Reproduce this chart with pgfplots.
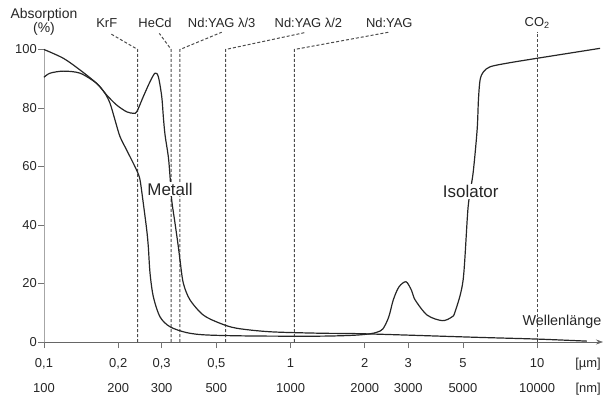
\documentclass[border=0pt]{standalone}
\usepackage{pgfplots}
\pgfplotsset{compat=1.18}
\usepackage{fontspec}
\setmainfont{Liberation Sans}
\usetikzlibrary{arrows.meta}
\tikzset{
  dashline/.style={black!70, line width=1bp, dash pattern=on 3bp off 2bp},
  curve/.style={black!85, line width=1.2bp, smooth, tension=0.5},
  lab/.style={font=\fontsize{13}{15}\selectfont, text=black!85},
}
\begin{document}
\begin{tikzpicture}
\begin{axis}[
  xmode=log, xmin=0.1, xmax=18.5, ymin=0, ymax=100,
  scale only axis, width=559bp, height=292.5bp,
  axis x line=bottom, axis y line=left,
  x axis line style={-{Stealth[length=7bp,width=5bp]}, black!60, line width=0.6bp},
  y axis line style={-, black!35, line width=0.6bp},
  tick style={black!55, line width=0.6bp},
  tick align=outside, major tick length=6bp,
  xtick={0.1,0.2,0.3,0.5,1,2,3,5,10},
  xticklabels={{0,1},{0,2},{0,3},{0,5},1,2,3,5,10},
  extra x ticks={0.1,0.2,0.3,0.5,1,2,3,5,10},
  extra x tick labels={100,200,300,500,1000,2000,3000,5000,10000},
  extra x tick style={xticklabel style={yshift=-25.3bp}},
  ytick={0,20,40,60,80,100},
  yticklabels={0,20,40,60,80,100},
  xminorticks=false,
  clip=false,
  /pgf/number format/assume math mode=true,
  every tick label/.append style={font=\fontsize{13}{15}\selectfont, text=black!85},
  xticklabel style={anchor=base, yshift=-19.5bp},
  yticklabel style={inner sep=1bp},
]
\coordinate (O) at (rel axis cs:0,0);
% laser lines
\draw[dashline] (axis cs:0.240,0) -- (axis cs:0.240,100) -- (axis cs:0.1853,105.5);
\draw[dashline] (axis cs:0.328,0) -- (axis cs:0.328,100) -- (axis cs:0.2937,105.5);
\draw[dashline] (axis cs:0.356,0) -- (axis cs:0.356,100) -- (axis cs:0.5257,105.9);
\draw[dashline] (axis cs:0.545,0) -- (axis cs:0.545,100) -- (axis cs:1.145,105.8);
\draw[dashline] (axis cs:1.036,0) -- (axis cs:1.036,100) -- (axis cs:2.533,106);
\draw[dashline] (axis cs:10.0,0) -- (axis cs:10.0,106);

% Isolator
\addplot[curve] coordinates {
(0.1,100) (0.1198,97.0) (0.140,93.0) (0.1636,88.4) (0.1768,85.0) (0.1853,81.6)
(0.1941,75.9) (0.2034,70.2) (0.2165,65.6) (0.2303,61.1) (0.2391,58.2) (0.2452,55.4)
(0.2528,47.4) (0.2610,38.3) (0.2649,32.6) (0.2692,23.5) (0.2776,15.5) (0.2955,8.6)
(0.3245,5.2) (0.3793,3.2) (0.4571,2.4) (0.7066,2.05) (1.317,2.0) (1.8,2.3) (2.1,2.8)
(2.25,3.4) (2.37,4.5) (2.5,8.5) (2.61,14.4) (2.75,18.8) (2.94,20.6) (3.1,17.5)
(3.2,14.4) (3.58,9.2) (4.12,7.3) (4.5,8.5) (4.65,10.4) (5.01,21.2) (5.25,46.2)
(5.5,57.8) (5.71,72.5) (5.78,82.7) (5.87,89.6) (6.06,92.4) (6.45,94.1) (7.53,95.3)
(10.0,97.0) (18.0,100.4)
};
% Metall
\addplot[curve] coordinates {
(0.1,90.5) (0.1058,91.9) (0.1198,92.6) (0.140,91.9) (0.1636,88.4) (0.1797,84.4)
(0.1972,81.0) (0.2165,78.7) (0.2303,78.2) (0.2378,78.7) (0.2528,83.9) (0.2692,89.0)
(0.2820,91.9) (0.2909,90.7) (0.3003,83.9) (0.3048,77.0) (0.3097,70.8) (0.3194,63.3)
(0.3245,56.5) (0.3296,48.5) (0.3400,40.6) (0.3506,32.6) (0.3562,28.0) (0.3674,20.1)
(0.3910,14.4) (0.4429,9.2) (0.5176,6.4) (0.6049,4.7) (0.8255,3.5) (1.317,3.0)
(2.0,2.8) (5.69,1.6) (10,1.0) (15.9,0.3)
};

\node[fill=white, inner sep=1bp, font=\fontsize{17}{19}\selectfont, text=black!85] at (axis cs:0.3245,52.3) {Metall};
\node[fill=white, inner sep=1bp, font=\fontsize{17}{19}\selectfont, text=black!85] at (axis cs:5.38,51.4) {Isolator};

\node[lab] at (axis cs:0.1797,109.2) {KrF};
\node[lab] at (axis cs:0.282,109.2) {HeCd};
\node[lab] at (axis cs:0.5257,109.2) {Nd:YAG λ/3};
\node[lab] at (axis cs:1.181,109.2) {Nd:YAG λ/2};
\node[lab] at (axis cs:2.514,109.2) {Nd:YAG};
\node[lab] at (axis cs:10,109.2) {CO\textsubscript{2}};

\node[align=center, font=\fontsize{14}{13}\selectfont, text=black!85] at (rel axis cs:0,1) [yshift=27.8bp] {Absorption\\(\%)};
\node[anchor=base west, font=\fontsize{14.4}{16}\selectfont, text=black!85] at (axis cs:8.45,5.8) {Wellenlänge};
\node[anchor=base, lab] at (axis cs:16.1,0) [yshift=-25.5bp] {[µm]};
\node[anchor=base, lab] at (axis cs:16.1,0) [yshift=-50.8bp] {[nm]};
\end{axis}
\pgfresetboundingbox
\path[use as bounding box] ([shift={(-44bp,-54bp)}]O) rectangle ([shift={(559bp,342bp)}]O);
\end{tikzpicture}
\end{document}
